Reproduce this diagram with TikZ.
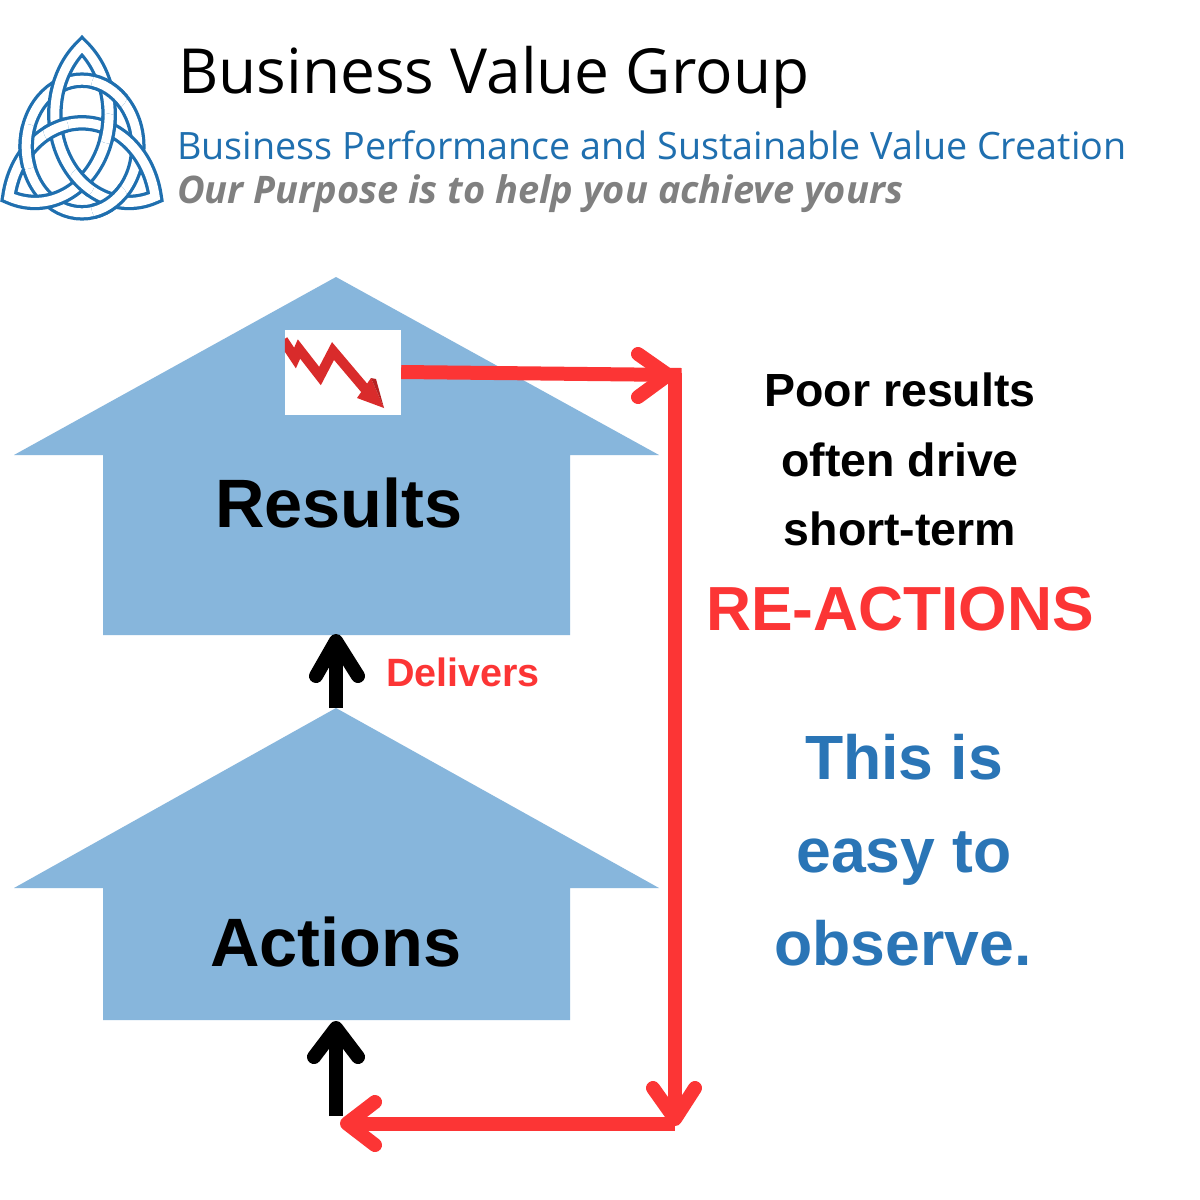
\documentclass[tikz,border=0pt]{standalone}
\usepackage{fontspec}
\setmainfont{Liberation Sans}
\newfontfamily\headfont{Open Sans}
\usetikzlibrary{calc}
\definecolor{houseblue}{HTML}{87B6DC}
\definecolor{alarmred}{HTML}{FC3535}
\definecolor{chartred}{HTML}{D92B2B}
\definecolor{chartdark}{HTML}{B52222}
\definecolor{logoblue}{HTML}{1F6FAF}
\definecolor{noteblue}{HTML}{2A75B6}
\definecolor{slogangrey}{HTML}{808080}
\newcommand{\lbl}[2]{\fontsize{#1}{#1}\selectfont #2}
\newcommand{\arcA}{(0,93.89) .. controls (-31.22,68.31) and (-39.32,23.90) .. (-19.14,-11.05) .. controls (1.04,-46.0) and (43.55,-61.19) .. (81.31,-46.95)}
\newcommand{\arcB}{(81.31,-46.95) .. controls (74.77,-7.12) and (40.36,22.10) .. (0,22.10) .. controls (-40.36,22.10) and (-74.77,-7.12) .. (-81.31,-46.95)}
\newcommand{\arcC}{(-81.31,-46.95) .. controls (-43.55,-61.19) and (-1.04,-46.0) .. (19.14,-11.05) .. controls (39.32,23.9) and (31.21,68.31) .. (0,93.89)}
\newcommand{\triq}{(0,93.89) .. controls (-31.22,68.31) and (-39.32,23.90) .. (-19.14,-11.05) .. controls (1.04,-46.0) and (43.55,-61.19) .. (81.31,-46.95)
  .. controls (74.77,-7.12) and (40.36,22.10) .. (0,22.10) .. controls (-40.36,22.10) and (-74.77,-7.12) .. (-81.31,-46.95)
  .. controls (-43.55,-61.19) and (-1.04,-46.0) .. (19.14,-11.05) .. controls (39.32,23.9) and (31.21,68.31) .. cycle}
\tikzset{
  x=1pt,y=-1pt,
  house/.style={fill=houseblue,draw=none},
  redline/.style={draw=alarmred,line width=14pt,line cap=butt},
  redhead/.style={draw=alarmred,line width=14pt,line cap=round,line join=round},
  blackline/.style={draw=black,line width=14pt,line cap=butt},
  blackhead/.style={draw=black,line width=14pt,line cap=round,line join=round},
  bandout/.style={draw=logoblue,line width=15.5pt,line join=miter},
  bandin/.style={draw=white,line width=9pt,line join=miter},
  bigword/.style={font=\bfseries\lbl{68.5}{},anchor=base,inner sep=0pt},
  notetext/.style={font=\bfseries\lbl{46.5}{},anchor=base,inner sep=0pt},
  bluetext/.style={font=\bfseries\lbl{62.5}{},anchor=base,inner sep=0pt,text=noteblue},
  headtext/.style={anchor=base west,inner sep=0pt},
}
\newcommand{\band}[1]{\draw[bandout] #1; \draw[bandin] #1;}
\begin{document}
\begin{tikzpicture}
\useasboundingbox (0,0) rectangle (1200,1200);
\fill[white] (0,0) rectangle (1200,1200);

% logo: triquetra woven through a ring
\begin{scope}[shift={(82,146.5)},x=0.9pt,y=1.07pt]
  \band{(0,0) circle[radius=62]}
  \band{\triq}
  \foreach \a in {60,180,300}{
    \begin{scope}
      \clip (\a:62) circle[radius=21];
      \band{(0,0) circle[radius=62]}
    \end{scope}
  }
  \begin{scope}
    \clip (150:33.6) circle[radius=14];
    \band{\arcB}
  \end{scope}
  \begin{scope}
    \clip (270:33.6) circle[radius=14];
    \band{\arcA}
  \end{scope}
  \begin{scope}
    \clip (30:33.6) circle[radius=14];
    \band{\arcC}
  \end{scope}
\end{scope}

% heading
\node[headtext,font=\headfont\lbl{62.2}{}] (title) at (178,93) {Business Value Group};
\node[headtext,font=\headfont\lbl{37.7}{},text=logoblue] (subtitle) at (177,159) {Business Performance and Sustainable Value Creation};
\node[headtext,font=\headfont\bfseries\itshape\lbl{38}{},text=slogangrey] (slogan) at (177,203) {Our Purpose is to help you achieve yours};

% houses
\path[house] (336,277) coordinate (rtop) -- (659,455) -- (570,455) -- (570,635) -- (336,635) coordinate (rbase) -- (103,635) -- (103,455) -- (14,455) -- cycle;
\path[house] (336,708) coordinate (atop) -- (659,888) -- (570,888) -- (570,1020) -- (336,1020) coordinate (abase) -- (103,1020) -- (103,888) -- (14,888) -- cycle;
\node[bigword] (results) at (339,527) {Results};
\node[bigword] (actions) at (336,966) {Actions};

% falling chart
\node[fill=white,minimum width=116pt,minimum height=85pt,inner sep=0pt] (chart) at (343,372.5) {};
\begin{scope}
  \clip (chart.south west) rectangle (chart.north east);
  \draw[chartred,line width=10pt,line join=miter] (283,340) -- (295,358) -- (299,349) -- (320,376) -- (333,351) -- (366,390);
\end{scope}
\fill[chartred] (357,398) -- (371,378) -- (384,408) -- cycle;
\fill[chartdark] (371,378) -- (376,379) -- (384,408) -- cycle;

% black arrows
\draw[blackline] (atop) -- ($(rbase)+(0,6)$);
\draw[blackhead] (316,676) -- ($(rbase)+(0,6)$) -- (358,676);
\coordinate (lowfoot) at (336,1116);
\draw[blackline] (lowfoot) -- ($(abase)+(0,8)$);
\draw[blackhead] (314,1057) -- ($(abase)+(0,8)$) -- (358,1057);

% red loop
\coordinate (turnT) at (674.5,375);
\coordinate (turnB) at (674.5,1123.5);
\coordinate (loopend) at (347,1123.5);
\draw[redline] (chart.east |- 0,372) -- ($(turnT)+(7,0)$);
\draw[redhead] (638,354) -- (668,375) -- (638,397);
\draw[redline] ($(turnT)+(0,-2)$) -- ($(turnB)+(0,-5)$);
\draw[redhead] (653,1088) -- (675,1119) -- (695,1088);
\draw[redline] (turnB) -- (loopend);
\draw[redhead] (375,1102) -- (loopend) -- (375,1145);

% labels
\node[font=\bfseries\lbl{39.5}{},text=alarmred,anchor=base,inner sep=0pt] (delivers) at (463,686) {Delivers};
\node[notetext] (n1) at (900,406) {Poor results};
\node[notetext] (n2) at (900,476) {often drive};
\node[notetext] (n3) at (900,545) {short-term};
\node[font=\bfseries\lbl{62.3}{},text=alarmred,anchor=base,inner sep=0pt] (n4) at (900,630) {RE-ACTIONS};
\node[bluetext] (b1) at (904,779) {This is};
\node[bluetext] (b2) at (904,872) {easy to};
\node[bluetext] (b3) at (903,965) {observe.};
\end{tikzpicture}
\end{document}
